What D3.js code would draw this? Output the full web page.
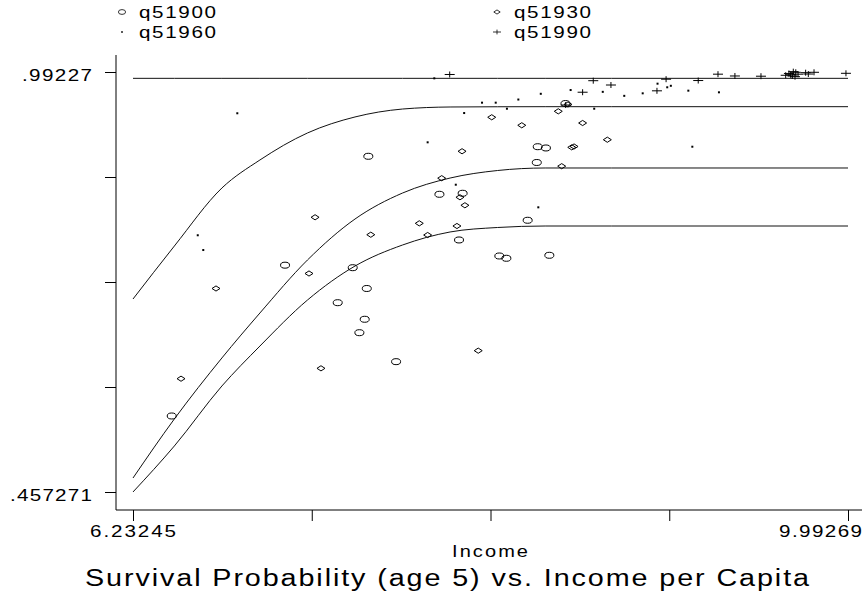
<html>
<head>
<meta charset="utf-8">
<title>Survival Probability vs Income</title>
<script src="https://cdn.jsdelivr.net/npm/d3@7"></script>
<style>
  body { margin: 0; background: #fff; }
  text { font-family: "Liberation Sans", Arial, sans-serif; fill: #000; }
</style>
</head>
<body>
<script>
// fitted curves
var curveX  = [6.2325, 6.45, 6.70, 6.90, 7.15, 7.40, 7.65, 7.90, 8.15, 8.40, 8.75, 9.9927];
var fit1900 = [.4573, .5159, .5923, .6432, .7018, .7451, .7719, .7885, .7942, .7961, .7961, .7961];
var fit1930 = [.4751, .5503, .6280, .6853, .7528, .8050, .8381, .8572, .8668, .8700, .8700, .8700];
var fit1960 = [.7031, .7706, .8445, .8802, .9146, .9350, .9451, .9477, .9480, .9481, .9481, .9481];
var fit1990 = [.9842, .9842, .9842, .9842, .9842, .9842, .9842, .9842, .9842, .9842, .9842, .9842];

// observed points
var x1900 = [7.470, 7.844, 7.032, 7.388, 7.462, 7.309, 7.451, 7.423, 7.616, 6.436, 8.361, 8.404, 8.356, 7.966, 8.308, 7.947, 8.159, 8.196, 8.422, 8.507];
var y1900 = [.8849, .8365, .7462, .7430, .7165, .6984, .6773, .6602, .6233, .5541, .8971, .8955, .8770, .8378, .8034, .7783, .7579, .7550, .7588, .9521];

var x1930 = [7.856, 7.190, 7.738, 7.483, 7.782, 7.158, 6.669, 8.048, 7.221, 6.485, 8.119, 8.277, 8.469, 8.597, 8.727, 7.963, 8.540, 8.552, 8.487, 7.952, 7.978, 7.936, 8.520];
var y1930 = [.8570, .8072, .7995, .7850, .7846, .7356, .7165, .6373, .6148, .6016, .9346, .9244, .9422, .9273, .9060, .8913, .8963, .8974, .8723, .8327, .8225, .7961, .9509];

var x1960 = [6.781, 7.782, 6.573, 6.602, 7.930, 8.364, 7.974, 8.068, 8.140, 8.199, 8.259, 8.377, 8.534, 8.658, 8.703, 8.816, 8.913, 8.991, 9.042, 9.061, 9.153, 9.314, 9.174, 7.817];
var y1960 = [.9397, .9027, .7843, .7655, .8487, .8199, .9400, .9532, .9532, .9455, .9572, .9645, .9693, .9455, .9670, .9619, .9651, .9774, .9728, .9747, .9685, .9664, .8971, .9842];

var x1990 = [7.898, 8.653, 8.746, 8.597, 8.988, 8.508, 9.036, 9.205, 9.309, 9.398, 9.535, 9.665, 9.691, 9.705, 9.718, 9.700, 9.714, 9.770, 9.784, 9.814, 9.982, 9.682, 9.730];
var y1990 = [.9891, .9812, .9757, .9665, .9683, .9502, .9831, .9814, .9895, .9872, .9869, .9881, .9888, .9927, .9919, .9872, .9863, .9914, .9897, .9919, .9906, .9904, .9895];

var xMin = 6.23245, xMax = 9.99269;
var yMin = .457271, yMax = .99227;
var xLabels = ["6.23245", "9.99269"];
var yLabels = [".457271", ".99227"];
var seriesNames = ["q51900", "q51930", "q51960", "q51990"];

var w = 865, h = 596;
var svg = d3.select("body").append("svg").attr("width", w).attr("height", h);

var x = d3.scaleLinear().domain([xMin, xMax]).range([133, 848]);
var y = d3.scaleLinear().domain([yMin, yMax]).range([492, 72]);

// text in the picture is wide and tracked; fit each string to its measured width
var glyph = 1.25;
function label(px, py, str, size, anchor, width) {
    var t = svg.append("g").attr("transform", "translate(" + px + "," + py + ") scale(" + glyph + ",1)")
       .append("text").attr("text-anchor", anchor).style("font-size", size + "px").text(str);
    t.attr("textLength", width / glyph).attr("lengthAdjust", "spacing");
}

// marker shapes
var markers = {
    circle:  function(g) { g.append("ellipse").attr("rx", 4.5).attr("ry", 3).attr("fill", "none").attr("stroke", "#000").attr("stroke-width", 1); },
    diamond: function(g) { g.append("path").attr("d", "M-4,0L0,-2.6L4,0L0,2.6Z").attr("fill", "none").attr("stroke", "#000").attr("stroke-width", 1); },
    dot:     function(g) { g.append("rect").attr("x", -1).attr("y", -1).attr("width", 2).attr("height", 2).attr("fill", "#000"); },
    plus:    function(g) { g.append("path").attr("d", "M-5,0H5M0,-3V3").attr("stroke", "#000").attr("stroke-width", 1); }
};

// axes
var yTicks = d3.range(5).map(function(i) { return yMin + i * (yMax - yMin) / 4; });
var xTicks = d3.range(5).map(function(i) { return xMin + i * (xMax - xMin) / 4; });

var yAxis = svg.append("g").attr("transform", "translate(116,0)")
    .call(d3.axisLeft(y).tickValues(yTicks).tickSize(11).tickFormat(""));
yAxis.select(".domain").remove();
var xAxis = svg.append("g").attr("transform", "translate(0,510)")
    .call(d3.axisBottom(x).tickValues(xTicks).tickSize(11).tickFormat(""));
xAxis.select(".domain").remove();
svg.selectAll(".tick line").attr("stroke", "#000").attr("stroke-width", 1);

svg.append("line").attr("x1", 116).attr("x2", 116).attr("y1", 55).attr("y2", 510).attr("stroke", "#000");
svg.append("line").attr("x1", 116).attr("x2", 862).attr("y1", 510).attr("y2", 510).attr("stroke", "#000");

label(92, y(yMax) + 8.5, yLabels[1], 16.5, "end", 70);
label(92, y(yMin) + 8.5, yLabels[0], 16.5, "end", 82);
label(x(xMin), 537, xLabels[0], 16.5, "middle", 86);
label(862, 537, xLabels[1], 16.5, "end", 83);
label(490, 557, "Income", 16, "middle", 76);
label(447, 586, "Survival Probability (age 5) vs. Income per Capita", 23, "middle", 724);

// fitted lines
var line = d3.line().x(function(d) { return x(d[0]); }).y(function(d) { return y(d[1]); }).curve(d3.curveMonotoneX);
[fit1900, fit1930, fit1960, fit1990].forEach(function(fit) {
    svg.append("path").datum(curveX.map(function(v, i) { return [v, fit[i]]; }))
       .attr("d", line).attr("fill", "none").attr("stroke", "#111").attr("stroke-width", 1);
});

// scatter
var series = [
    { xs: x1900, ys: y1900, m: "circle" },
    { xs: x1930, ys: y1930, m: "diamond" },
    { xs: x1960, ys: y1960, m: "dot" },
    { xs: x1990, ys: y1990, m: "plus" }
];
series.forEach(function(s) {
    s.xs.forEach(function(v, i) {
        var g = svg.append("g").attr("transform", "translate(" + x(v) + "," + y(s.ys[i]) + ")");
        markers[s.m](g);
    });
});

// legend
var legendPos = [[122, 12], [497, 12], [122, 32], [497, 32]];
series.forEach(function(s, i) {
    var g = svg.append("g").attr("transform", "translate(" + legendPos[i][0] + "," + legendPos[i][1] + ") scale(0.8)");
    markers[s.m](g);
    label(legendPos[i][0] + 17, legendPos[i][1] + 6, seriesNames[i], 16.5, "start", 77);
});
</script>
</body>
</html>
